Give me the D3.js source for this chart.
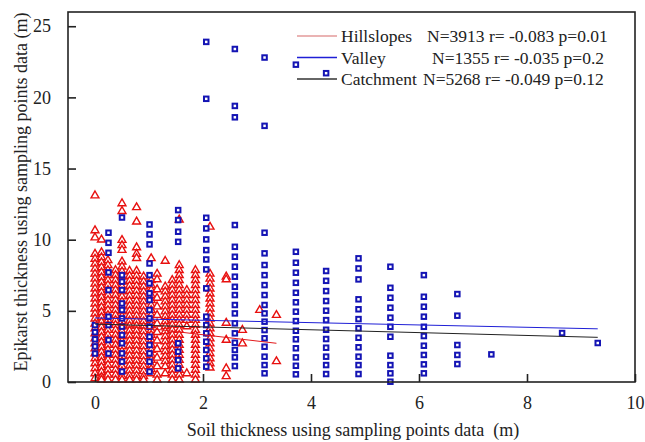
<!DOCTYPE html>
<html>
<head>
<meta charset="utf-8">
<script src="https://cdn.jsdelivr.net/npm/d3@7"></script>
<style>
  html, body { margin: 0; padding: 0; background: #fff; }
  svg { display: block; font-family: "Liberation Serif", "Times New Roman", serif; }
</style>
</head>
<body>
<svg id="chart" width="645" height="442"></svg>
<script>
// Hillslopes sampling points: [soil thickness, [epikarst thickness values]]
const hillslopes = [
  [0.00, [13.1, 10.65, 10.15, 9.0, 8.65, 8.3, 7.95, 7.6, 7.25, 6.9, 6.55, 6.2, 5.85, 5.5, 5.15, 4.8, 4.45, 4.1, 3.75, 3.4, 3.05, 2.7, 2.35, 2.0, 1.65, 1.3, 0.95, 0.6, 0.25]],
  [0.12, [10.0, 9.1, 8.75, 8.4, 8.05, 7.7, 7.35, 7.0, 6.65, 6.3, 5.95, 5.6, 5.25, 4.9, 4.55, 4.2, 3.85, 3.5, 3.15, 2.8, 2.45, 2.1, 1.75, 1.4, 1.05, 0.7, 0.35, 0.15]],
  [0.24, [8.55, 8.2, 7.85, 7.5, 7.15, 6.8, 6.45, 6.1, 5.75, 5.4, 5.05, 4.7, 4.35, 4.0, 3.65, 3.3, 2.95, 2.6, 2.25, 1.9, 1.55, 1.2, 0.85, 0.5, 0.15]],
  [0.38, [7.85, 7.5, 7.15, 6.8, 6.45, 6.1, 5.75, 5.4, 5.05, 4.7, 4.35, 4.0, 3.65, 3.3, 2.95, 2.6, 2.25, 1.9, 1.55, 1.2, 0.85, 0.5, 0.15]],
  [0.50, [12.55, 12.0, 9.97, 9.6, 9.27, 8.45, 8.1, 7.75, 7.4, 7.05, 6.7, 6.35, 6.0, 5.65, 5.3, 4.95, 4.6, 4.25, 3.9, 3.55, 3.2, 2.85, 2.5, 2.15, 1.8, 1.45, 1.1, 0.75, 0.4, 0.15]],
  [0.64, [7.8, 7.45, 7.1, 6.75, 6.4, 6.05, 5.7, 5.35, 5.0, 4.65, 4.3, 3.95, 3.6, 3.25, 2.9, 2.55, 2.2, 1.85, 1.5, 1.15, 0.8, 0.45, 0.15]],
  [0.77, [12.27, 11.26, 9.45, 9.0, 8.7, 7.8, 7.45, 7.1, 6.75, 6.4, 6.05, 5.7, 5.35, 5.0, 4.65, 4.3, 3.95, 3.6, 3.25, 2.9, 2.55, 2.2, 1.85, 1.5, 1.15, 0.8, 0.45, 0.15]],
  [0.90, [7.4, 7.05, 6.7, 6.35, 6.0, 5.65, 5.3, 4.95, 4.6, 4.25, 3.9, 3.55, 3.2, 2.85, 2.5, 2.15, 1.8, 1.45, 1.1, 0.75, 0.4, 0.15]],
  [1.04, [8.69, 7.15, 6.8, 6.45, 6.1, 5.75, 5.4, 5.05, 4.7, 4.35, 4.0, 3.65, 3.3, 2.95, 2.6, 2.25, 1.9, 1.55, 1.2, 0.9, 0.6]],
  [1.15, [7.6, 7.2, 6.5, 5.9, 5.3, 4.7, 4.1, 3.5, 2.9, 2.3, 1.7, 1.1, 0.5, 0.15]],
  [1.30, [8.5, 6.7, 6.35, 6.0, 5.65, 5.3, 4.95, 4.6, 4.25, 3.9, 3.55, 3.2, 2.85, 2.5, 2.15, 1.8, 1.45, 1.1, 0.6]],
  [1.43, [7.15, 6.8, 6.45, 6.1, 5.75, 5.4, 5.05, 4.7, 4.35, 4.0, 3.65, 3.3, 2.95, 2.6, 2.25, 1.9, 1.55, 1.2, 0.85, 0.5, 0.15]],
  [1.56, [11.4, 8.2, 7.85, 7.5, 7.15, 6.8, 6.45, 6.1, 5.75, 5.4, 5.05, 4.7, 4.35, 4.0, 3.65, 3.3, 2.95, 2.6, 2.25, 1.9, 1.55, 1.2, 0.85, 0.5, 0.15]],
  [1.70, [6.45, 6.1, 5.75, 5.4, 5.05, 4.7, 4.35, 3.9, 0.6]],
  [1.86, [7.85, 7.5, 7.15, 6.8, 6.45, 6.1, 5.75, 5.4, 5.05, 4.7, 4.35, 4.0, 3.65, 3.3, 2.95, 2.6, 2.25, 1.9, 1.55, 1.2, 0.85, 0.5, 0.15]],
  [2.13, [10.9, 7.6, 7.25, 6.9, 6.55, 6.2, 5.85, 5.5, 5.15, 4.8, 4.45, 4.1, 3.75, 3.4, 3.05, 2.7, 2.35, 2.0, 1.65, 1.3, 1.0]],
  [2.43, [7.4, 7.2, 4.15, 2.95, 0.95, 0.4]],
  [2.73, [3.65, 2.7]],
  [3.05, [5.05]],
  [3.36, [4.7, 1.45]]
];

// Valley sampling points: [soil thickness, [epikarst thickness values]]
const valley = [
  [0.00, [4.0, 3.5, 3.0, 2.5, 2.0]],
  [0.25, [10.49, 9.78, 9.08, 7.7, 6.46, 4.59, 4.0, 2.95, 2.0]],
  [0.50, [11.56, 7.51, 7.05, 6.46, 5.52, 5.06, 4.47, 3.89, 3.3, 2.72, 2.01, 1.43, 0.73]],
  [1.01, [11.07, 10.37, 9.67, 8.33, 7.51, 6.93, 6.23, 5.76, 5.06, 4.47, 3.89, 3.18, 2.6, 2.01, 1.43, 0.73]],
  [1.54, [12.08, 11.38, 10.56, 9.85, 2.72, 2.13, 1.54, 0.96]],
  [2.06, [23.9, 19.9, 11.54, 10.79, 10.02, 9.27, 8.61, 7.91, 6.58, 4.59, 4.0, 3.42, 2.83, 2.25, 1.66, 1.08]],
  [2.59, [23.4, 19.4, 18.6, 11.03, 9.5, 8.8, 8.1, 7.4, 6.69, 6.11, 5.41, 4.82, 4.12, 3.42, 2.76, 2.25, 1.73, 1.12]],
  [3.14, [22.8, 18.0, 10.49, 9.04, 8.22, 7.51, 6.81, 6.11, 5.41, 4.82, 4.24, 3.65, 3.07, 2.48, 1.78, 1.19, 0.61]],
  [3.72, [22.3, 9.15, 8.38, 7.68, 6.97, 6.27, 5.6, 4.94, 4.28, 3.6, 3.0, 2.37, 1.73, 1.14, 0.54]],
  [4.28, [21.7, 7.8, 7.11, 6.39, 5.69, 5.01, 4.35, 3.67, 3.02, 2.41, 1.78, 1.19, 0.56]],
  [4.88, [8.69, 7.98, 7.21, 5.81, 5.11, 4.42, 3.77, 3.11, 2.44, 1.78, 1.19, 0.56]],
  [5.47, [8.1, 6.62, 5.92, 5.22, 4.52, 3.88, 3.18, 1.85, 1.19, 0.61, 0.02]],
  [6.09, [7.51, 5.99, 5.29, 4.59, 3.88, 3.23, 2.55, 1.9, 1.24, 0.61]],
  [6.71, [6.18, 4.66, 2.6, 1.9, 1.26]],
  [7.34, [1.94]],
  [8.65, [3.44]],
  [9.31, [2.74]]
];

// Linear fits: [name, intercept, slope, x start, x end, colour]
const fits = [
  ["Hillslopes", 4.2, -0.44, 0, 3.36, "#e31a1c"],
  ["Valley", 4.5, -0.082, 0, 9.31, "#1f1fd6"],
  ["Catchment", 4.07, -0.1, 0, 9.31, "#222222"]
];

// Legend rows: [label, statistics, line colour, statistics x position]
const legendRows = [
  ["Hillslopes", "N=3913 r= -0.083 p=0.01", "#e39a9a", 427],
  ["Valley", "N=1355 r= -0.035 p=0.2", "#1f1fd6", 432],
  ["Catchment", "N=5268 r= -0.049 p=0.12", "#333333", 423]
];

const xTicks = [0, 2, 4, 6, 8, 10];
const yTicks = [0, 5, 10, 15, 20, 25];

const svg = d3.select("#chart");
const margin = { left: 68, top: 12, right: 10, bottom: 60 };
const W = 645, H = 442;

const x = d3.scaleLinear().domain([-0.5, 10]).range([margin.left, W - margin.right]);
const y = d3.scaleLinear().domain([0, 26]).range([H - margin.bottom, margin.top]);

const flatten = cols => cols.flatMap(([sx, ys]) => ys.map(v => [sx, v]));

// Red hollow triangles
const tri = d3.symbol().type(d3.symbolTriangle).size(27);
svg.append("g")
  .selectAll("path")
  .data(flatten(hillslopes))
  .join("path")
  .attr("d", tri)
  .attr("transform", d => `translate(${x(d[0])},${y(d[1])})`)
  .attr("fill", "#fff")
  .attr("stroke", "#e8100f")
  .attr("stroke-width", 1.4);

// Blue hollow squares
const sq = 4.5;
svg.append("g")
  .selectAll("rect")
  .data(flatten(valley))
  .join("rect")
  .attr("x", d => x(d[0]) - sq / 2)
  .attr("y", d => y(d[1]) - sq / 2)
  .attr("width", sq)
  .attr("height", sq)
  .attr("fill", "#fff")
  .attr("stroke", "#1414b4")
  .attr("stroke-width", 2);

// Regression lines
svg.append("g")
  .selectAll("line")
  .data(fits)
  .join("line")
  .attr("x1", d => x(d[3]))
  .attr("x2", d => x(d[4]))
  .attr("y1", d => y(d[1] + d[2] * d[3]))
  .attr("y2", d => y(d[1] + d[2] * d[4]))
  .attr("stroke", d => d[5])
  .attr("stroke-width", 1);

// Axes with inward ticks
const xAxis = d3.axisBottom(x).tickValues(xTicks).tickSize(-8).tickPadding(14).tickFormat(d3.format("d"));
const yAxis = d3.axisLeft(y).tickValues(yTicks).tickSize(-8).tickPadding(17).tickFormat(d3.format("d"));

const gx = svg.append("g").attr("transform", `translate(0,${H - margin.bottom})`).call(xAxis);
const gy = svg.append("g").attr("transform", `translate(${margin.left},0)`).call(yAxis);
[gx, gy].forEach(g => {
  g.select(".domain").remove();
  g.selectAll(".tick line").attr("stroke", "#222").attr("stroke-width", 1.6);
  g.selectAll(".tick text").attr("font-family", "Liberation Serif").attr("font-size", 18).attr("fill", "#222");
});

// Frame
svg.append("rect")
  .attr("x", margin.left).attr("y", margin.top)
  .attr("width", W - margin.left - margin.right)
  .attr("height", H - margin.top - margin.bottom)
  .attr("fill", "none").attr("stroke", "#222").attr("stroke-width", 1.6);

// Axis titles
svg.append("text")
  .attr("x", 353).attr("y", 436)
  .attr("text-anchor", "middle").attr("font-size", 18).attr("fill", "#222")
  .text("Soil thickness using sampling points data\u00a0\u00a0(m)");
svg.append("text")
  .attr("transform", `translate(27,192) rotate(-90)`)
  .attr("text-anchor", "middle").attr("font-size", 18).attr("fill", "#222")
  .text("Epikarst thickness using sampling points data (m)");

// Legend
const lg = svg.append("g");
legendRows.forEach(([name, stats, col, sx], i) => {
  const cy = 36 + i * 21.5;
  lg.append("line").attr("x1", 297).attr("x2", 337).attr("y1", cy).attr("y2", cy)
    .attr("stroke", col).attr("stroke-width", 1.6);
  lg.append("text").attr("x", 341).attr("y", cy + 6).attr("font-size", 17.5)
    .attr("fill", "#222").text(name);
  lg.append("text").attr("x", sx).attr("y", cy + 6).attr("font-size", 17.5)
    .attr("fill", "#222").text(stats);
});
</script>
</body>
</html>
